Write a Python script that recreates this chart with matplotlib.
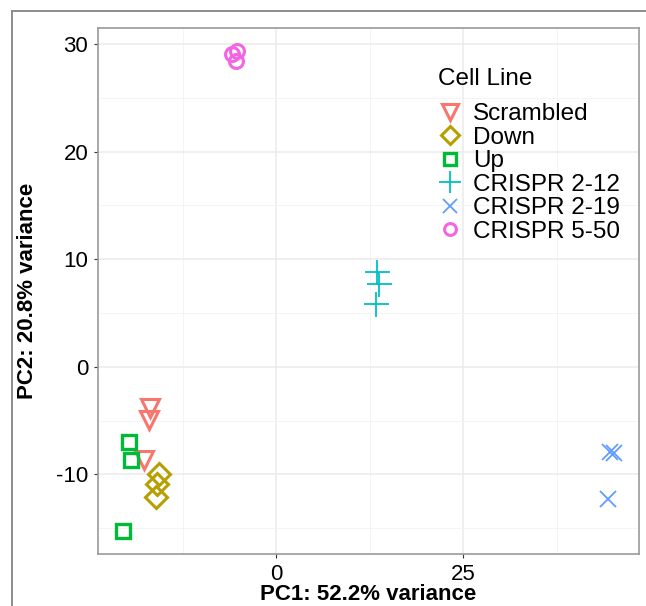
import matplotlib
matplotlib.use("Agg")
import matplotlib.pyplot as plt
from matplotlib.lines import Line2D

plt.rcParams['font.family'] = ['Liberation Sans', 'DejaVu Sans']
plt.rcParams['axes.unicode_minus'] = False

# PCA coordinates
groups = ["Scrambled", "Down", "Up", "CRISPR 2-12", "CRISPR 2-19", "CRISPR 5-50"]
colors = ["#F8766D", "#B79F00", "#00BA38", "#00BFC4", "#619CFF", "#F564E3"]
markers = ["v", "D", "s", "+", "x", "o"]
sizes = [13, 11, 10, 18, 12, 10]
edge_w = [2.2, 2.2, 2.4, 1.3, 1.3, 2.2]

scrambled_x = [-16.8, -17.0, -17.7]
scrambled_y = [-3.8, -4.9, -8.7]
down_x = [-15.6, -15.9, -16.0]
down_y = [-10.0, -10.9, -12.1]
up_x = [-19.6, -19.4, -20.5]
up_y = [-7.0, -8.7, -15.3]
c212_x = [13.5, 13.8, 13.4]
c212_y = [8.8, 7.7, 5.8]
c219_x = [44.6, 45.1, 44.4]
c219_y = [-7.9, -8.0, -12.3]
c550_x = [-5.9, -5.2, -5.4]
c550_y = [29.1, 29.4, 28.4]

xs = [scrambled_x, down_x, up_x, c212_x, c219_x, c550_x]
ys = [scrambled_y, down_y, up_y, c212_y, c219_y, c550_y]

x_ticks = [0, 25]
y_ticks = [-10, 0, 10, 20, 30]

W, H = 646, 606
fig = plt.figure(figsize=(W / 100, H / 100), dpi=100)
ax = fig.add_axes([98 / W, 1 - 554 / H, (639 - 98) / W, (554 - 28) / H])

for x, y, c, m, s, lw in zip(xs, ys, colors, markers, sizes, edge_w):
    ax.plot(x, y, linestyle="none", marker=m, markersize=s,
            markerfacecolor="none", markeredgecolor=c, markeredgewidth=lw,
            zorder=3)

ax.set_xlim(-23.8, 48.5)
ax.set_ylim(-17.4, 31.5)
ax.set_xticks(x_ticks)
ax.set_yticks(y_ticks)
ax.set_xticks([-12.5, 12.5, 37.5], minor=True)
ax.set_yticks([-15, -5, 5, 15, 25], minor=True)
ax.grid(True, which="major", color="#ebebeb", linewidth=1.1, zorder=0)
ax.grid(True, which="minor", color="#f2f2f2", linewidth=0.6, zorder=0)
ax.set_axisbelow(True)
ax.tick_params(which="major", length=3, width=0.8, color="#333333",
               labelsize=16, labelcolor="black", pad=4)
ax.tick_params(which="minor", length=0)
for sp in ax.spines.values():
    sp.set_color("#9a9a9a")
    sp.set_linewidth(1.2)

fig.text(368.5 / W, 1 - 595 / H, "PC1: 52.2% variance", ha="center", va="center",
         fontsize=16, fontweight="bold")
fig.text(28 / W, 1 - 291 / H, "PC2: 20.8% variance", ha="center", va="center",
         rotation=90, fontsize=16, fontweight="bold")

# legend: title drawn separately so the gap below it matches
fig.text(438 / W, 1 - 79 / H, "Cell Line", ha="left", va="center", fontsize=17.5)
handles = [Line2D([], [], linestyle="none", marker=m, markersize=s * 0.85,
                  markerfacecolor="none", markeredgecolor=c, markeredgewidth=lw)
           for c, m, s, lw in zip(colors, markers, sizes, edge_w)]
leg = ax.legend(handles, groups, loc="upper left",
                bbox_to_anchor=(435 / W, 1 - 103 / H), bbox_transform=fig.transFigure,
                frameon=False, fontsize=17.5, borderaxespad=0,
                labelspacing=0.065, handletextpad=0.35, handlelength=1.2,
                borderpad=0)

# outer frame around the figure
fig.add_artist(Line2D([12 / W, 1], [1 - 11 / H, 1 - 11 / H], color="#8c8c8c", linewidth=1.4))
fig.add_artist(Line2D([12 / W, 12 / W], [0, 1 - 11 / H], color="#8c8c8c", linewidth=1.4))

fig.savefig("out.png", dpi=100)
